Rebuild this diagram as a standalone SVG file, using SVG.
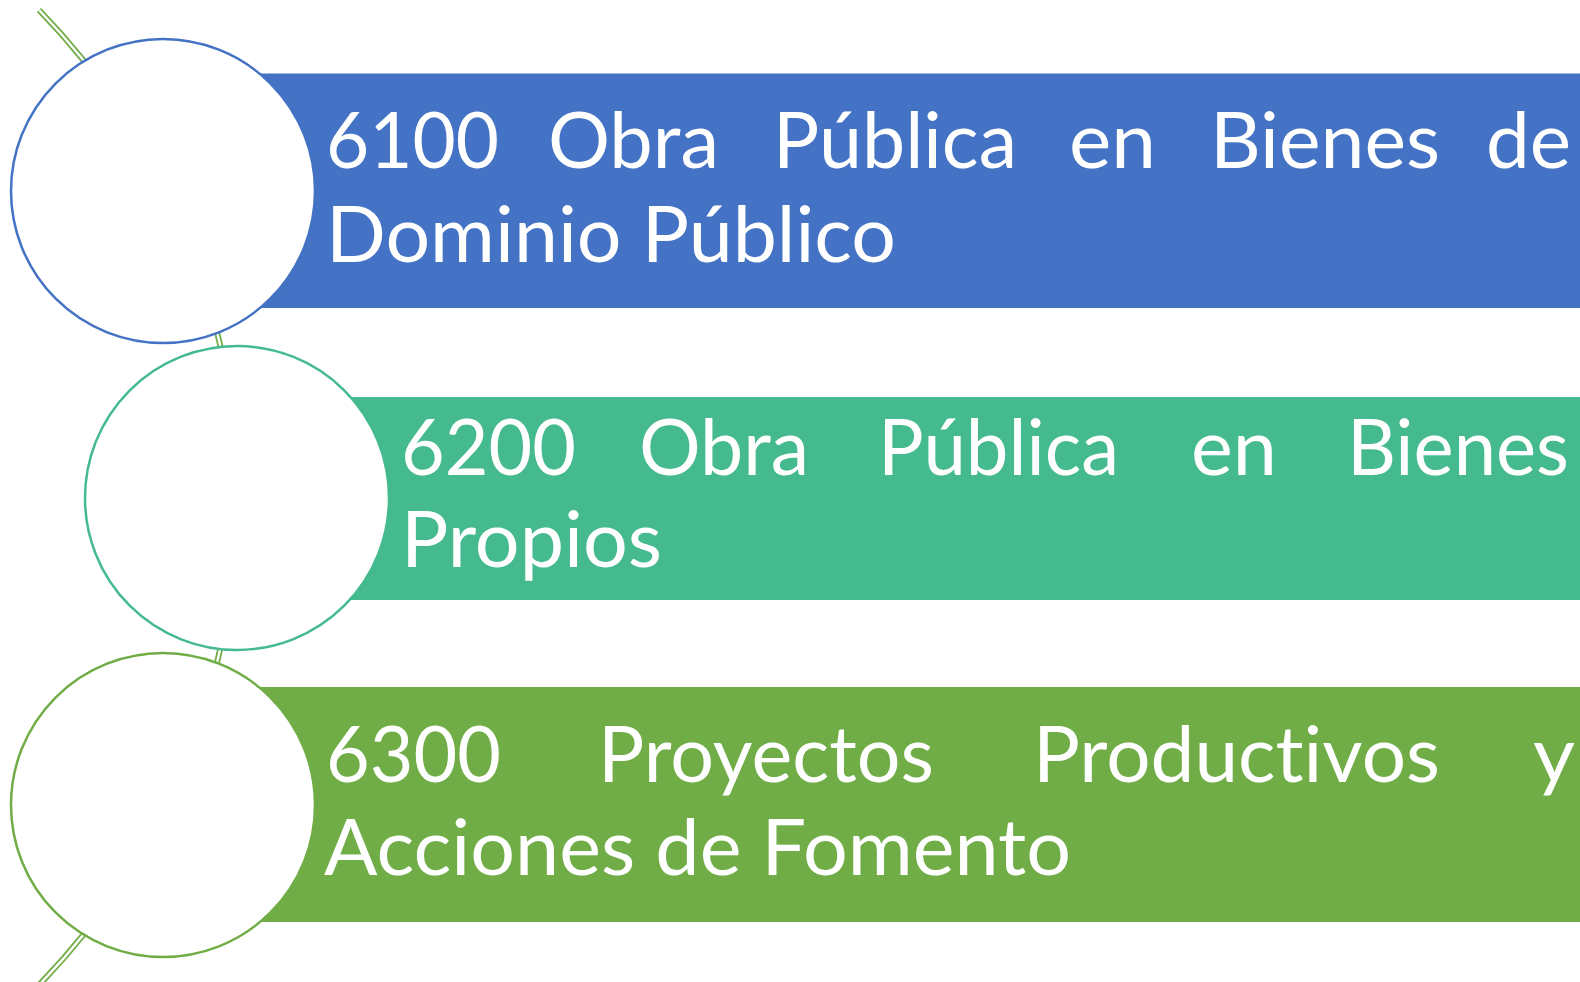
<svg xmlns="http://www.w3.org/2000/svg" width="1580" height="982" viewBox="0 0 1580 982">
<style>
.t{font-family:Lato,"Open Sans","Noto Sans",sans-serif;font-size:78px;fill:#fff;font-variant-ligatures:none;font-feature-settings:"liga" 0,"clig" 0}
.c{fill:#fff;stroke-width:2.5}
</style>
<rect x="0" y="0" width="1580" height="982" fill="#fff"/>
<g id="connectors">
<path d="M 39 10 A 699.6 699.6 0 0 1 39 985" fill="none" stroke="#70AD47" stroke-width="6"/>
<path d="M 39 10 A 699.6 699.6 0 0 1 39 985" fill="none" stroke="#fff" stroke-width="2.4"/>
</g>
<g id="node1">
<rect x="163" y="73.5" width="1417" height="234.5" fill="#4472C4"/>
<circle class="c" cx="163" cy="191" r="152" stroke="#4472C4"/>
<text class="t" x="326" y="168" textLength="173" lengthAdjust="spacingAndGlyphs">6100</text>
<text class="t" x="548" y="168" textLength="171" lengthAdjust="spacingAndGlyphs">Obra</text>
<text class="t" x="773" y="168" textLength="244" lengthAdjust="spacingAndGlyphs">Pública</text>
<text class="t" x="1069" y="168" textLength="87" lengthAdjust="spacingAndGlyphs">en</text>
<text class="t" x="1210" y="168" textLength="230" lengthAdjust="spacingAndGlyphs">Bienes</text>
<text class="t" x="1486" y="168" textLength="85" lengthAdjust="spacingAndGlyphs">de</text>
<text class="t" x="326" y="262" textLength="570" lengthAdjust="spacingAndGlyphs">Dominio Público</text>
</g>
<g id="node2">
<rect x="237" y="397" width="1343" height="203" fill="#44BA8E"/>
<circle class="c" cx="237" cy="498" r="152" stroke="#44BA8E"/>
<text class="t" x="401" y="475" textLength="175" lengthAdjust="spacingAndGlyphs">6200</text>
<text class="t" x="639" y="475" textLength="170" lengthAdjust="spacingAndGlyphs">Obra</text>
<text class="t" x="878" y="475" textLength="241" lengthAdjust="spacingAndGlyphs">Pública</text>
<text class="t" x="1191" y="475" textLength="86" lengthAdjust="spacingAndGlyphs">en</text>
<text class="t" x="1347" y="475" textLength="222" lengthAdjust="spacingAndGlyphs">Bienes</text>
<text class="t" x="401" y="567" textLength="261" lengthAdjust="spacingAndGlyphs">Propios</text>
</g>
<g id="node3">
<rect x="163" y="687" width="1417" height="235" fill="#70AD47"/>
<circle class="c" cx="163" cy="805" r="152" stroke="#70AD47"/>
<text class="t" x="326" y="782" textLength="175" lengthAdjust="spacingAndGlyphs">6300</text>
<text class="t" x="598" y="782" textLength="336" lengthAdjust="spacingAndGlyphs">Proyectos</text>
<text class="t" x="1033" y="782" textLength="407" lengthAdjust="spacingAndGlyphs">Productivos</text>
<text class="t" x="1533" y="782" textLength="42" lengthAdjust="spacingAndGlyphs">y</text>
<text class="t" x="324" y="875" textLength="747" lengthAdjust="spacingAndGlyphs">Acciones de Fomento</text>
</g>
</svg>
